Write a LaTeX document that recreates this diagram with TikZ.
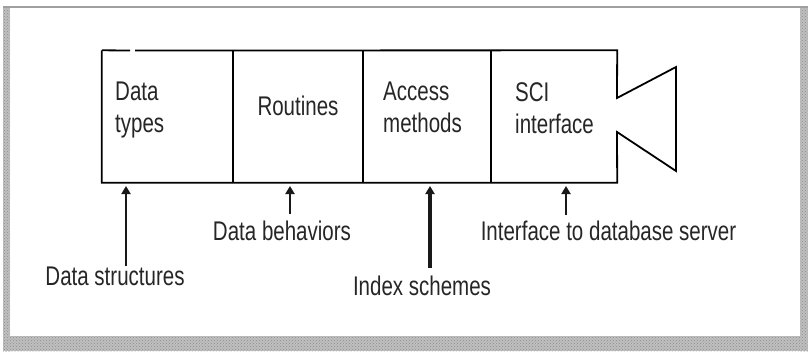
\documentclass[tikz,border=0pt]{standalone}
\usepackage{fontspec}
\setmainfont{Liberation Sans}[FakeStretch=0.76]
\usetikzlibrary{patterns,arrows.meta}
\begin{document}
\begin{tikzpicture}[x=1pt,y=-1pt,
  outline/.style={line width=1.8pt, black, line join=miter},
  lbl/.style={font=\fontsize{27}{32}\selectfont, text=black!85, inner sep=0pt},
  cellbox/.style={draw=none, minimum width=#1, minimum height=132pt, inner sep=0pt},
  uparrow/.style={line width=2.6pt, black!90,
    -{Triangle[width=9pt,length=8pt]}},
  band/.style={fill=gray!50, draw=none, postaction={pattern=crosshatch dots, pattern color=gray!90}}
]
\useasboundingbox (0,0) rectangle (808,351);

% scanned page frame
\fill[band] (3,7) rectangle (10,351);
\fill[band] (800,7) rectangle (808,351);
\fill[band] (3,336) rectangle (808,351);
\draw[line width=2pt, gray!75] (3,7) -- (808,7);

% the four cells of the component
\node[cellbox=131pt] (c1) at (167.5,116.5) {};
\node[cellbox=130pt] (c2) at (298,116.5) {};
\node[cellbox=128pt] (c3) at (427,116.5) {};
\node[cellbox=126pt] (c4) at (554,116.5) {};

% outline with the plug on the right side
\draw[outline] (c1.north west) -- (130,50.5);
\draw[outline] (135,50.5) -- (c4.north east) -- (617,98) -- (676,67) -- (676,171)
  -- (617,132) -- (c4.south east) -- (c1.south west) -- (c1.north west);
\draw[outline] (c1.north east) -- (c1.south east);
\draw[outline] (c2.north east) -- (c2.south east);
\draw[outline] (c3.north east) -- (c3.south east);

% cell texts
\node[lbl, anchor=north west, align=left] (t1) at (115,82) {Data\\types};
\node[lbl, anchor=base] (t2) at (298,115) {Routines};
\node[lbl, anchor=north west, align=left] (t3) at (383,82) {Access\\methods};
\node[lbl, anchor=north west, align=left] (t4) at (515,82) {SCI\\interface};

% labels below
\node[lbl, anchor=base] (ds) at (115,285) {Data structures};
\node[lbl, anchor=base] (db) at (282,240) {Data behaviors};
\node[lbl, anchor=base] (is) at (422,295) {Index schemes};
\node[lbl, anchor=base] (ifc) at (608.5,240) {Interface to database server};

% arrow tips just under the cells
\coordinate (a1) at (126,186);
\coordinate (a2) at (290,186);
\coordinate (a3) at (430,186);
\coordinate (a4) at (566,186);

\draw[uparrow] (ds.north -| a1) -- (a1);
\draw[uparrow, shorten <=6pt] (db.north -| a2) -- (a2);
\draw[uparrow, line width=3.4pt, shorten <=7pt] (is.north -| a3) -- (a3);
\draw[uparrow, shorten <=5pt] (ifc.north -| a4) -- (a4);
\end{tikzpicture}
\end{document}
